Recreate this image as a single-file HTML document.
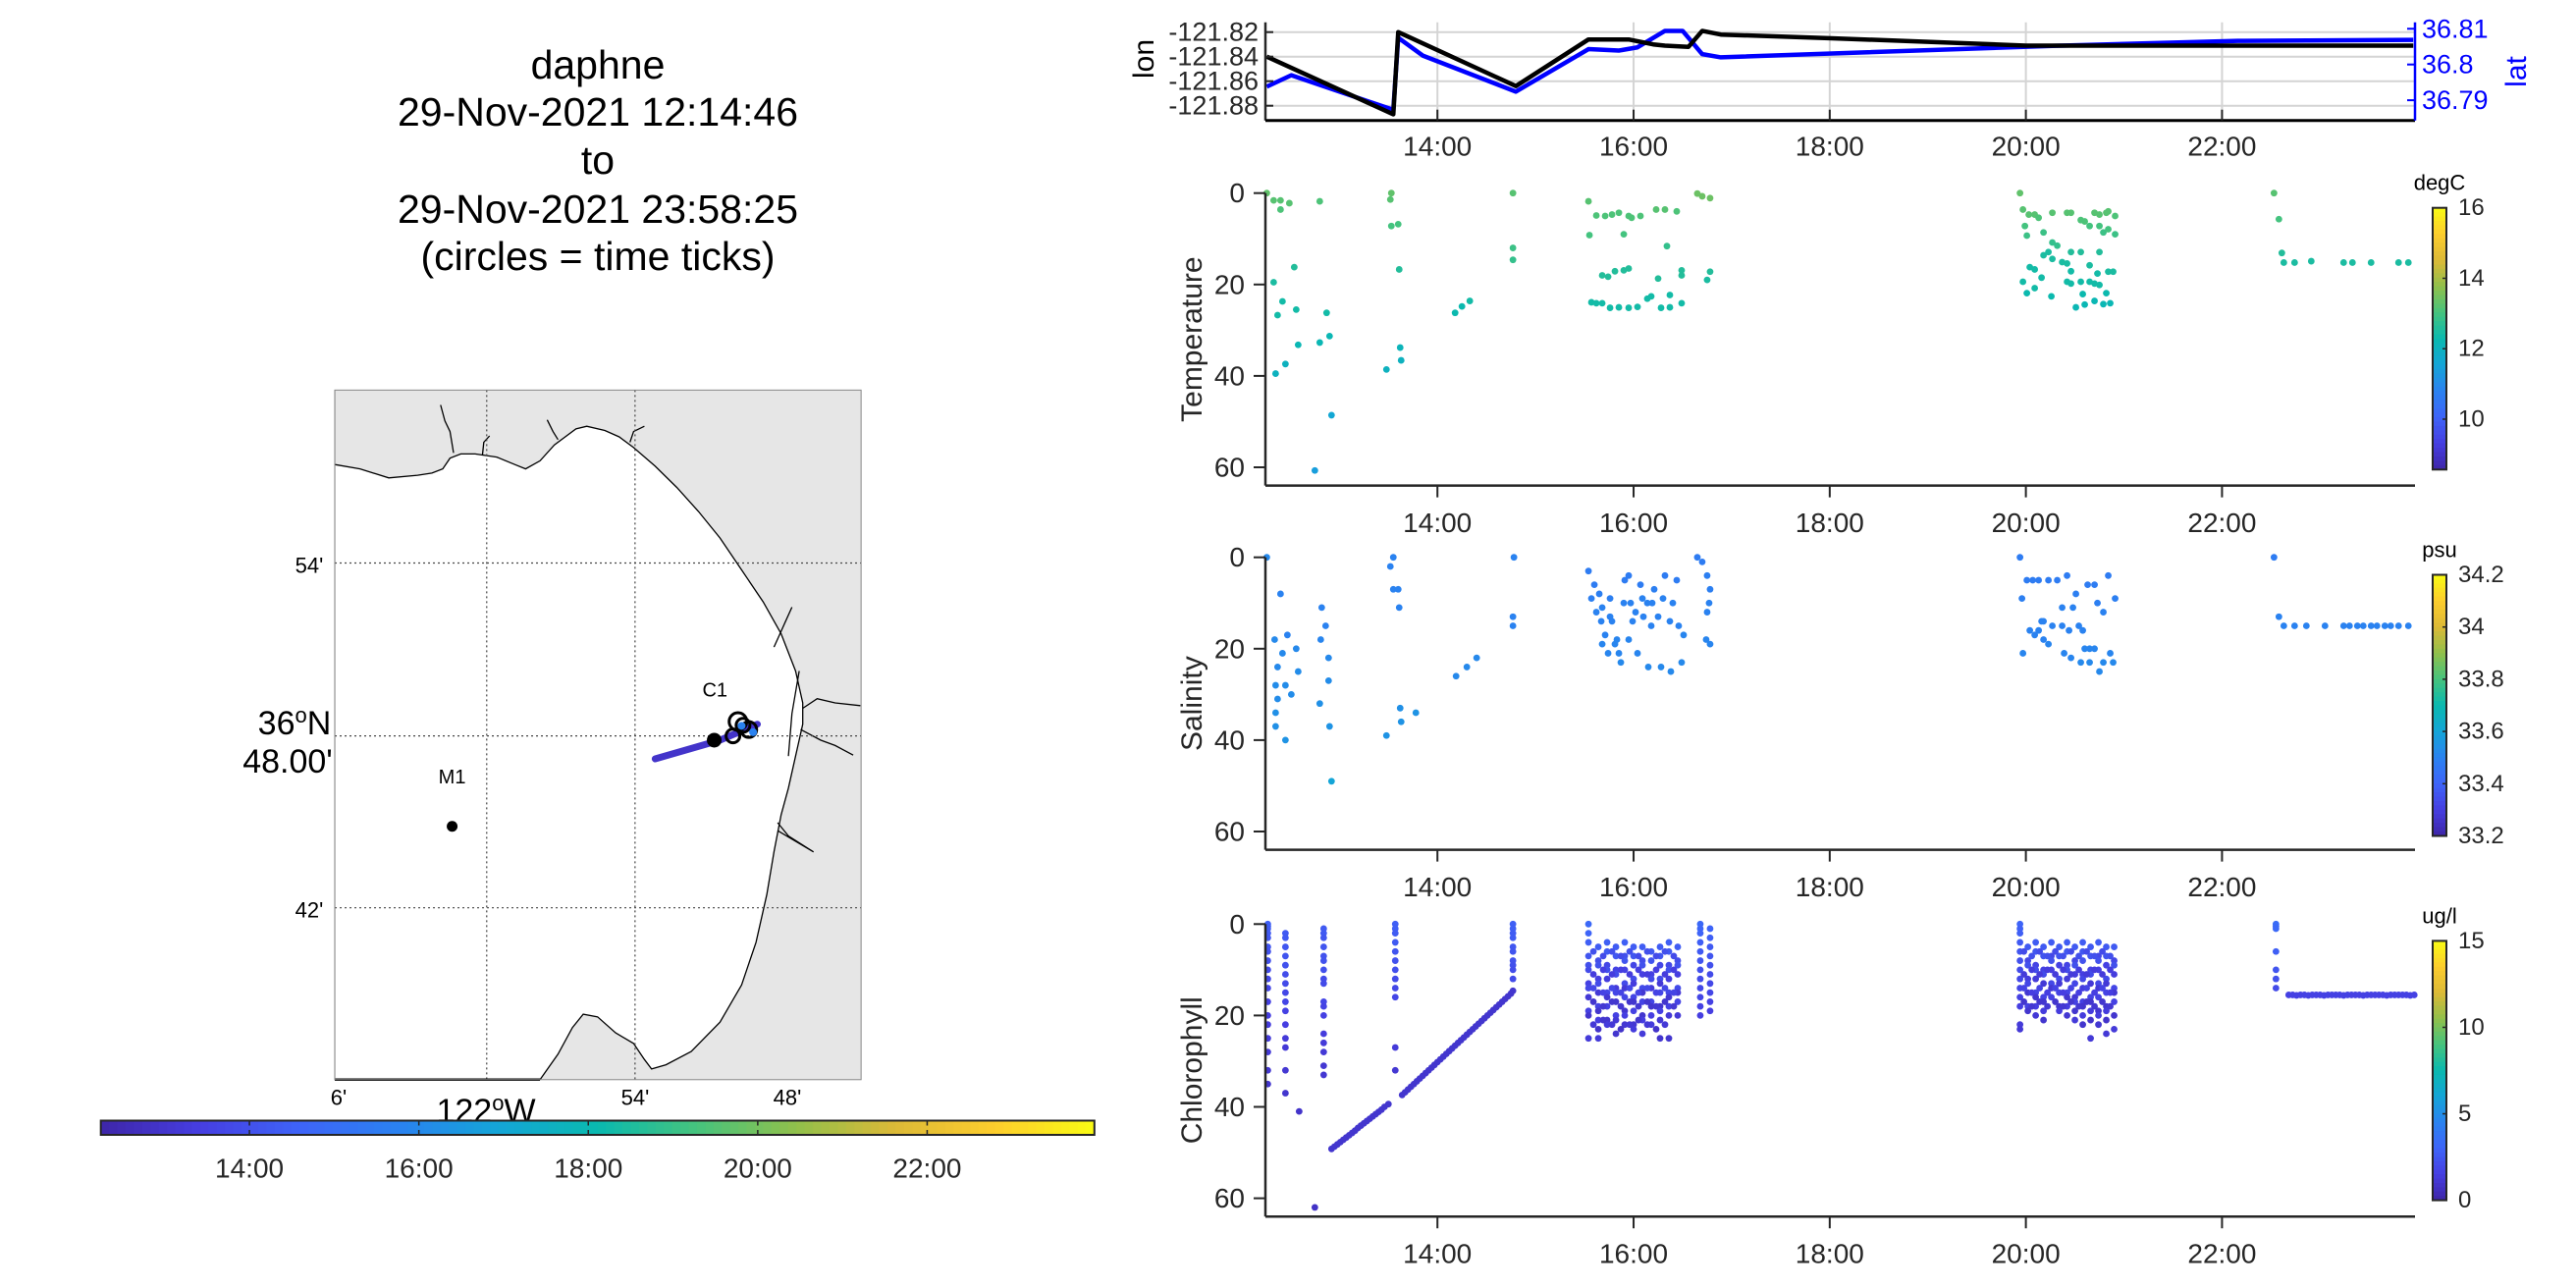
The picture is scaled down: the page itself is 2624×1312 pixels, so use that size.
<!DOCTYPE html>
<html><head><meta charset="utf-8">
<style>
html,body{margin:0;padding:0;background:#fff;}
svg{display:block;font-family:"Liberation Sans",Arial,sans-serif;}
</style></head>
<body>
<svg id="fig" width="2624" height="1312" viewBox="0 0 2624 1312" xmlns="http://www.w3.org/2000/svg">
<g font-size="41" text-anchor="middle" fill="#000">
<text x="609" y="80">daphne</text>
<text x="609" y="128">29-Nov-2021 12:14:46</text>
<text x="609" y="177">to</text>
<text x="609" y="227">29-Nov-2021 23:58:25</text>
<text x="609" y="275">(circles = time ticks)</text>
</g>
<g id="map"></g>
<g id="hcb"></g>
<g id="nav"></g>
<g id="temp"></g>
<g id="sal"></g>
<g id="chl"></g>
</svg>
<script>
// ---------- data ----------
const timeTicks = [14,16,18,20,22];
const timeTickLabels = ["14:00","16:00","18:00","20:00","22:00"];
const navT = [12.26,13.55,13.60,14.80,15.54,15.95,16.20,16.32,16.56,16.70,16.89,18.02,20.0,23.95];
const lonV = [-121.840,-121.887,-121.820,-121.864,-121.826,-121.826,-121.830,-121.831,-121.832,-121.819,-121.822,-121.825,-121.831,-121.831];
const latT = [12.26,12.51,13.55,13.60,13.85,14.80,15.54,15.85,16.04,16.32,16.50,16.70,16.89,20.27,22.16,23.95];
const latV = [36.7938,36.797,36.7873,36.8075,36.8025,36.7924,36.8043,36.8039,36.8048,36.8094,36.8094,36.8029,36.802,36.8052,36.8066,36.8069];
const lonTicks = [-121.82,-121.84,-121.86,-121.88];
const latTicks = [36.81,36.8,36.79];
const latTickLabels = ["36.81","36.8","36.79"];
const depthTicks = [0,20,40,60];

const tempT = [12.26,12.33,12.40,12.40,12.49,12.54,12.33,12.37,12.35,12.45,12.42,12.56,12.58,12.80,12.92,12.87,12.90,12.80,12.75,
13.53,13.52,13.53,13.60,13.61,13.62,13.63,13.48,14.77,14.77,14.77,14.18,14.25,14.33,
15.54,15.55,15.62,15.71,15.78,15.85,15.90,15.95,15.98,16.07,16.23,16.32,16.44,16.34,15.68,15.74,15.81,15.90,15.95,16.25,16.49,16.49,
15.57,15.62,15.68,15.76,15.85,15.95,16.04,16.14,16.18,16.28,16.37,16.37,16.49,16.65,16.70,16.78,16.75,16.78,
19.94,19.97,20.03,20.09,20.13,19.99,20.01,20.18,20.27,20.32,20.27,20.42,20.46,20.56,20.60,20.70,20.75,20.82,20.84,20.91,20.75,20.79,20.91,20.84,20.65,
20.04,20.09,20.18,20.23,20.27,20.37,20.42,20.46,20.56,20.65,20.75,20.84,20.89,19.97,20.01,20.09,20.16,20.26,20.42,20.46,20.56,20.65,20.70,20.75,
20.51,20.60,20.70,20.79,20.86,20.58,20.82,20.46,20.73,
22.53,22.58,22.61,22.63,22.74,22.91,23.24,23.33,23.52,23.80,23.90];
const tempD = [0,1.6,1.6,3.6,2.2,16.2,19.5,26.7,39.5,37.4,23.7,25.5,33.2,1.8,48.6,26.2,31.3,32.7,60.7,
0,1.4,7.2,6.8,16.7,33.8,36.6,38.6,0,12,14.6,26.2,24.8,23.6,
1.8,9.2,4.9,5,4.7,4.3,9,5,5.4,5,3.6,3.6,4,11.6,18,18.3,17.1,16.9,16.5,18.7,16.9,18,
23.9,24.1,24.1,25.1,25,25.1,24.9,23.1,22.6,25.1,25,22.3,24.1,0.1,0.7,1.1,19,17.2,
0,3.6,4.7,4.7,5.4,7.2,9.3,8.6,10.8,11.5,4.3,4.3,4.3,5.9,6.2,4.3,4.7,4.3,4,5,7.2,8.6,9,7.9,7.2,
16.2,16.7,13.6,12.9,14.4,15.1,15.4,12.9,12.9,15.8,12.9,17.2,17.2,19.4,21.9,20.8,18.5,22.6,19.4,19.8,19.4,19.4,19.8,20.1,
25,24.4,23.6,24.3,24.1,22.1,21.9,17.1,17.6,
0,5.7,13.1,15.2,15.2,14.9,15.2,15.2,15.2,15.2,15.2];
const tempV = [13.3,13.2,13.2,13.1,13.2,12.6,12.5,12.4,12.0,12.0,12.4,12.4,12.2,13.1,11.6,12.4,12.2,12.2,11.4,
13.3,13.2,13.0,13.0,12.6,12.1,12.0,12.0,13.2,12.9,12.8,12.3,12.3,12.4,
13.2,13.0,13.1,13.1,13.1,13.1,13.0,13.1,13.1,13.1,13.2,13.2,13.1,12.8,12.6,12.6,12.6,12.6,12.6,12.6,12.6,12.6,
12.4,12.4,12.4,12.4,12.4,12.4,12.4,12.4,12.4,12.4,12.4,12.4,12.4,13.4,13.4,13.4,12.5,12.6,
13.3,13.2,13.2,13.2,13.1,13.0,12.9,12.9,12.8,12.8,13.2,13.2,13.2,13.1,13.1,13.2,13.2,13.2,13.2,13.1,13.0,12.9,12.9,13.0,13.0,
12.4,12.4,12.5,12.5,12.5,12.5,12.5,12.6,12.6,12.5,12.6,12.5,12.5,12.4,12.3,12.4,12.4,12.3,12.4,12.4,12.4,12.4,12.4,12.4,
12.2,12.2,12.2,12.2,12.2,12.3,12.3,12.4,12.4,
13.2,13.0,12.6,12.5,12.5,12.5,12.5,12.5,12.5,12.5,12.5];

const salT = [12.26,12.40,12.34,12.37,12.35,12.37,12.35,12.35,12.45,12.42,12.47,12.45,12.51,12.56,12.58,12.82,12.86,12.81,12.89,12.89,12.80,12.90,12.92,
13.55,13.52,13.55,13.60,13.61,13.62,13.63,13.78,13.48,14.19,14.30,14.40,14.78,14.77,14.77,
15.54,15.57,15.60,15.62,15.67,15.68,15.71,15.74,15.76,15.78,15.81,15.83,15.85,15.87,15.91,15.95,15.97,15.99,16.02,16.04,16.07,16.10,16.14,16.15,16.19,16.21,16.25,16.28,16.30,16.32,16.37,16.38,16.44,16.46,16.49,16.51,
16.65,16.70,16.75,16.78,16.77,16.75,16.74,16.78,15.65,15.68,15.76,15.90,15.95,16.09,16.18,16.40,
19.94,19.96,20.01,20.04,20.09,20.13,20.16,20.18,20.23,20.07,20.13,20.23,20.32,20.42,20.51,20.48,20.37,20.27,20.37,20.44,20.54,20.58,20.63,20.70,20.73,20.65,20.70,20.46,20.56,20.65,20.75,20.79,20.86,20.89,20.84,20.91,19.97,20.18,20.79,20.60,20.39,
22.53,22.58,22.63,22.74,22.86,23.05,23.24,23.30,23.38,23.44,23.52,23.58,23.66,23.72,23.80,23.90];
const salD = [0,8,18,24,28,31,34,37,40,21,17,28,30,20,25,11,15,18,22,27,32,37,49,
0,2,7,7,11,33,36,34,39,26,24,22,0,13,15,
3,9,6,12,14,19,17,21,13,14,19,18,21,23,5,4,10,14,12,21,6,13,10,24,10,7,13,24,9,4,14,25,5,15,23,17,
0,1,4,7,10,12,18,19,8,11,9,10,18,9,15,10,
0,9,5,16,17,16,14,18,19,5,5,5,5,4,8,11,11,15,15,16,15,16,6,6,10,20,20,22,23,23,25,23,21,23,4,9,21,14,12,20,21,
0,13,15,15,15,15,15,15,15,15,15,15,15,15,15,15];
const salV = [33.52,33.5,33.52,33.52,33.53,33.53,33.54,33.54,33.55,33.52,33.5,33.53,33.53,33.52,33.53,33.5,33.5,33.51,33.52,33.53,33.54,33.55,33.6,
33.5,33.5,33.5,33.5,33.5,33.54,33.55,33.55,33.55,33.52,33.52,33.52,33.5,33.5,33.5,
33.48,33.49,33.48,33.5,33.5,33.51,33.5,33.51,33.5,33.5,33.51,33.51,33.51,33.52,33.48,33.48,33.5,33.5,33.5,33.51,33.48,33.5,33.5,33.52,33.5,33.49,33.5,33.52,33.5,33.48,33.5,33.52,33.48,33.5,33.52,33.51,
33.48,33.48,33.49,33.49,33.5,33.5,33.51,33.51,33.49,33.5,33.49,33.5,33.51,33.5,33.5,33.5,
33.48,33.49,33.48,33.5,33.5,33.5,33.5,33.5,33.51,33.48,33.48,33.48,33.48,33.48,33.49,33.5,33.5,33.5,33.5,33.5,33.5,33.5,33.48,33.48,33.49,33.51,33.51,33.51,33.52,33.52,33.52,33.52,33.51,33.52,33.48,33.49,33.51,33.5,33.5,33.51,33.51,
33.48,33.5,33.5,33.5,33.5,33.5,33.5,33.5,33.5,33.5,33.5,33.5,33.5,33.5,33.5,33.5];

const chlTimes = [12.27,12.45,12.59,12.75,12.84,13.57,14.77,
15.54,15.64,15.73,15.82,15.91,16.00,16.09,16.18,16.27,16.36,16.45,16.68,16.78,
15.59,15.69,15.78,15.87,15.96,16.05,16.14,16.23,16.32,16.41,
19.94,20.02,20.10,20.18,20.26,20.34,20.42,20.50,20.58,20.66,20.74,20.82,20.90,
19.98,20.06,20.14,20.22,20.30,20.38,20.46,20.54,20.62,20.70,20.78,20.86,
22.55];
const chlDepths = [[0,0.5,1,2,3,5,6,8,10,12,14,17,20,22,25,28,32,35],[2,3,5,7,9,11,13,15,17,19,22,25,27,32,37],[41],[62],
[1,2,3,5,7,8,10,12,13,17,18,20,24,26,28,31,33],[0,1,2,4,6,8,10,12,14,16,27,32],[0,1,2,3,5,6,8,9,10,12],
[0,2,4,7,9,10,13,14,16,19,20,25],[5,8,9,12,13,15,18,19,21,23,25],[4,6,9,10,12,15,16,18,21,22],[5,7,10,11,14,15,17,20,21,24],
[4,7,8,10,13,14,16,19,20,22],[5,7,9,12,13,16,17,19,22,23],[5,8,9,11,14,15,17,20,21,24],[6,8,11,12,14,17,18,20,22],
[5,7,9,12,13,15,18,19,21,25],[4,6,9,10,12,15,16,18,20,25],[5,8,9,11,14,15,17,20],[0,1,2,4,6,8,10,12,14,16,18,20],[1,3,5,7,9,11,13,15,17,19],
[6,11,14,17,22],[7,10,15,18,21],[6,11,14,17,22],[7,10,15,18,23],[6,11,14,17,22],[7,10,15,18,21],[6,11,14,17,22],[7,10,15,18,23],[6,11,14,17,22],[7,10,15,18],
[0,1,2,4,6,8,10,12,14,16,18,22,23],[5,8,9,12,13,15,18,19],[4,6,9,10,12,15,16,18,20],[5,7,10,11,13,16,17,19,21],[4,7,8,10,13,14,16],
[5,7,9,12,13,15,18,19],[4,6,9,10,12,15,16,18,20],[5,8,9,11,13,16,17,19,21],[4,6,8,11,12,14,17,18,20,22],[5,7,10,11,13,16,17,19,21,25],
[4,7,8,10,13,14,16,19,20,22],[5,7,9,12,13,15,18,19,21,24],[5,8,9,11,14,15,17,20,23],
[6,11,14,17],[7,10,15,18],[6,11,14,17],[7,10,15,18],[6,11,14,17],[7,10,15,18],[6,11,14,17],[7,10,15,18],[6,11,14,17],[7,10,15,18],[6,11,14,17],[7,10,15,18],
[0,0.5,1,6,10,12,14]];
const chlValues = [[2.8,2.8,2.7,2.6,2.5,2.4,2.3,2.2,2.0,1.9,1.8,1.6,1.5,1.4,1.3,1.2,1.1,1.0],[2.6,2.6,2.5,2.4,2.3,2.1,2.0,1.9,1.8,1.6,1.5,1.3,1.2,1.1,1.0],[0.9],[0.8],
[2.6,2.6,2.5,2.4,2.3,2.3,2.2,2.0,2.0,1.8,1.7,1.6,1.4,1.3,1.2,1.1,1.1],[2.8,2.8,2.7,2.6,2.4,2.3,2.2,2.0,1.9,1.8,1.3,1.1],[2.8,2.8,2.7,2.7,2.5,2.4,2.3,2.2,2.1,2.0],
[3.2,3.0,2.8,2.4,2.2,2.0,1.6,1.9,1.2,1.6,1.0,1.3],[2.7,2.1,2.3,1.5,2.0,1.2,1.7,1.0,1.5,0.9,1.3],[2.8,2.6,1.8,2.2,1.4,1.9,1.1,1.6,1.0,1.4],[2.7,2.5,1.7,2.1,1.3,1.8,1.0,1.6,1.2,1.0],
[2.8,2.2,2.4,1.6,2.0,1.2,1.8,1.0,1.5,1.1],[2.7,2.5,1.8,2.1,1.4,1.8,1.0,1.6,1.1,1.4],[2.7,2.1,2.3,1.5,2.0,1.1,1.7,1.0,1.5,1.3],[2.6,2.4,1.6,2.0,1.3,1.8,1.0,1.5,1.4],
[2.7,2.5,1.8,2.1,1.2,1.8,1.0,1.6,1.2,1.0],[2.8,2.6,1.9,2.2,1.4,1.9,1.1,1.6,1.2,1.0],[2.7,2.1,2.3,1.5,2.0,1.2,1.7,1.2],[3.2,3.1,3.0,2.8,2.6,2.4,2.2,2.0,1.9,1.8,1.6,1.5],[3.0,2.8,2.6,2.4,2.2,2.0,1.9,1.8,1.6,1.5],
[2.2,1.4,1.9,1.0,1.2],[2.0,1.5,1.7,1.1,1.0],[2.2,1.4,1.9,1.0,1.2],[2.0,1.5,1.7,1.1,0.9],[2.2,1.4,1.9,1.0,1.2],[2.0,1.5,1.7,1.1,1.0],[2.2,1.4,1.9,1.0,1.2],[2.0,1.5,1.7,1.1,0.9],[2.2,1.4,1.9,1.0,1.2],[2.0,1.5,1.7,1.1],
[3.0,2.9,2.8,2.6,2.4,2.2,2.0,1.9,1.8,1.6,1.5,1.3,1.2],[2.6,1.8,2.2,1.4,1.8,1.1,1.6,1.0],[2.7,2.5,1.7,2.1,1.3,1.8,1.0,1.5,1.2],[2.6,2.4,1.6,2.0,1.2,1.7,1.0,1.4,1.0],[2.7,1.9,2.3,1.5,1.9,1.1,1.6],
[2.6,2.4,1.6,2.0,1.2,1.7,1.0,1.4],[2.7,2.5,1.7,2.1,1.3,1.8,1.0,1.5,1.1],[2.6,1.8,2.2,1.4,1.8,1.1,1.6,1.0,1.3],[2.7,2.5,2.3,1.5,1.9,1.4,1.6,1.0,1.4,1.0],[2.6,2.4,1.6,2.0,1.2,1.7,1.0,1.4,0.9,1.2],
[2.7,1.9,2.3,1.5,1.9,1.2,1.6,1.0,1.4,1.1],[2.6,2.4,1.6,2.0,1.2,1.7,1.0,1.4,0.9,1.2],[2.6,1.8,2.2,1.4,1.8,1.1,1.6,1.0,1.3],
[2.0,1.3,1.7,1.0],[2.2,1.4,1.5,1.1],[2.0,1.3,1.7,1.0],[2.2,1.4,1.5,1.1],[2.0,1.3,1.7,1.0],[2.2,1.4,1.5,1.1],[2.0,1.3,1.7,1.0],[2.2,1.4,1.5,1.1],[2.0,1.3,1.7,1.0],[2.2,1.4,1.5,1.1],[2.0,1.3,1.7,1.0],[2.2,1.4,1.5,1.1],
[3.4,3.3,3.2,2.8,2.4,2.2,2.0]];
const profT = [12.92,12.95,12.98,13.01,13.04,13.07,13.10,13.13,13.16,13.19,13.22,13.25,13.28,13.31,13.34,13.37,13.40,13.43,13.46,13.50,
13.64,13.67,13.70,13.73,13.76,13.79,13.82,13.85,13.88,13.91,13.94,13.97,14.00,14.03,14.06,14.09,14.12,14.15,14.18,14.21,14.24,14.27,14.30,14.33,14.36,14.39,14.42,14.45,14.48,14.51,14.54,14.57,14.60,14.63,14.66,14.69,14.72,14.75,14.77];
const profD = [49.2,48.7,48.2,47.7,47.2,46.7,46.2,45.7,45.2,44.6,44.1,43.6,43.1,42.6,42.1,41.6,41.1,40.6,40.0,39.4,
37.4,36.8,36.2,35.6,35.0,34.4,33.8,33.2,32.6,32.0,31.4,30.8,30.2,29.6,29.0,28.4,27.8,27.2,26.6,26.0,25.4,24.8,24.2,23.6,23.0,22.4,21.8,21.2,20.6,20.0,19.4,18.8,18.2,17.6,17.0,16.4,15.8,15.2,14.6];
const profV = 1.0;
const tailT = [22.68,22.72,22.76,22.80,22.84,22.88,22.92,22.96,23.00,23.04,23.08,23.12,23.16,23.20,23.24,23.28,23.32,23.36,23.40,23.44,23.48,23.52,23.56,23.60,23.64,23.68,23.72,23.76,23.80,23.84,23.88,23.92,23.96];
const tailD = [15.5,15.5,15.6,15.5,15.5,15.6,15.5,15.5,15.5,15.6,15.5,15.5,15.5,15.5,15.6,15.5,15.5,15.5,15.5,15.6,15.5,15.5,15.5,15.5,15.5,15.6,15.5,15.5,15.5,15.5,15.5,15.6,15.5];
const tailV = 1.6;

// ---------- helpers ----------
const NS = "http://www.w3.org/2000/svg";
function el(tag, attrs, parent){const e=document.createElementNS(NS,tag);for(const k in attrs)e.setAttribute(k,attrs[k]);if(parent)parent.appendChild(e);return e;}
function txt(s, attrs, parent){const e=el("text",attrs,parent);e.textContent=s;return e;}
const stops=[[0,62,38,168],[0.1,70,62,225],[0.2,62,100,248],[0.3,42,130,240],[0.4,20,165,215],[0.5,10,185,175],[0.6,70,195,125],[0.7,145,192,75],[0.8,220,185,55],[0.9,253,205,45],[1,249,251,20]];
function parula(f){f=Math.max(0,Math.min(1,f));for(let i=1;i<stops.length;i++){if(f<=stops[i][0]){const a=stops[i-1],b=stops[i],u=(f-a[0])/(b[0]-a[0]);return `rgb(${Math.round(a[1]+u*(b[1]-a[1]))},${Math.round(a[2]+u*(b[2]-a[2]))},${Math.round(a[3]+u*(b[3]-a[3]))})`;}}return "rgb(249,251,20)";}
const T0=12.246, T1=23.974;
const X=t=>1289+(t-T0)*99.9;
const AX0=1289, AX1=2460;

// ---------- nav panel ----------
(function(){
 const g=document.getElementById("nav");
 const top=22.7,bot=122.7;
 const lonY=v=>32.7+(-121.82-v)*1250;
 const latY=v=>29.3+(36.81-v)*3640;
 lonTicks.forEach(v=>{const l=el("line",{x1:AX0,x2:AX1,y1:lonY(v),y2:lonY(v),stroke:"#d4d4d4","stroke-width":2},g);});
 timeTicks.forEach(t=>{const l=el("line",{x1:X(t),x2:X(t),y1:top,y2:bot,stroke:"#d4d4d4","stroke-width":2},g);});
 const lonPts=navT.map((t,i)=>X(t)+","+lonY(lonV[i])).join(" ");
 const latPts=latT.map((t,i)=>X(t)+","+latY(latV[i])).join(" ");
 const pl2=el("polyline",{points:latPts,fill:"none",stroke:"#0000ff","stroke-width":4.5,"stroke-linejoin":"round"},g);
 
 const pl=el("polyline",{points:lonPts,fill:"none",stroke:"#000","stroke-width":4.5,"stroke-linejoin":"round"},g);
 
 el("line",{x1:AX0,x2:AX0,y1:top,y2:bot,stroke:"#262626","stroke-width":2.5},g);
 el("line",{x1:AX0,x2:AX1,y1:bot,y2:bot,stroke:"#000","stroke-width":3},g);
 el("line",{x1:AX1,x2:AX1,y1:top,y2:bot,stroke:"#0000ff","stroke-width":2.5},g);
 lonTicks.forEach(v=>{el("line",{x1:AX0,x2:AX0+8,y1:lonY(v),y2:lonY(v),stroke:"#262626","stroke-width":2},g);
  const t=txt(v.toFixed(2),{x:1282,y:lonY(v),"font-size":27,"text-anchor":"end","dominant-baseline":"central",fill:"#262626"},g);
  });
 latTicks.forEach((v,i)=>{el("line",{x1:AX1-8,x2:AX1,y1:latY(v),y2:latY(v),stroke:"#0000ff","stroke-width":2},g);
  const t=txt(latTickLabels[i],{x:2467,y:latY(v),"font-size":27,"dominant-baseline":"central",fill:"#0000ff"},g);
  });
 timeTicks.forEach((t,i)=>{el("line",{x1:X(t),x2:X(t),y1:bot-11,y2:bot,stroke:"#262626","stroke-width":2},g);
  const e=txt(timeTickLabels[i],{x:X(t),y:149,"font-size":28,"text-anchor":"middle","dominant-baseline":"central",fill:"#262626"},g);
  });
 const a=txt("lon",{x:0,y:0,"font-size":30,"text-anchor":"middle",transform:"translate(1175,60) rotate(-90)",fill:"#000"},g);
 
 const b=txt("lat",{x:0,y:0,"font-size":30,"text-anchor":"middle",transform:"translate(2573,73) rotate(-90)",fill:"#0000ff"},g);
 
})();

// ---------- scatter panels ----------
function panel(id, y0, title, unit, cmin, cmax, cbTicks, cbLabels, cbTop, cbBot){
 const g=document.getElementById(id);
 const Y=d=>y0+d*4.655, bot=y0+64*4.655;
 const dots=el("g",{},g);
 
 el("line",{x1:AX0,x2:AX0,y1:y0,y2:bot,stroke:"#262626","stroke-width":2.5},g);
 el("line",{x1:AX0,x2:AX1,y1:bot,y2:bot,stroke:"#262626","stroke-width":2.5},g);
 depthTicks.forEach(d=>{el("line",{x1:AX0-12,x2:AX0,y1:Y(d),y2:Y(d),stroke:"#262626","stroke-width":2},g);
  const t=txt(String(d),{x:1268,y:Y(d),"font-size":28,"text-anchor":"end","dominant-baseline":"central",fill:"#262626"},g);
  });
 timeTicks.forEach((t,i)=>{el("line",{x1:X(t),x2:X(t),y1:bot,y2:bot+12,stroke:"#262626","stroke-width":2},g);
  const e=txt(timeTickLabels[i],{x:X(t),y:bot+38,"font-size":28,"text-anchor":"middle","dominant-baseline":"central",fill:"#262626"},g);
  });
 const ti=txt(title,{x:0,y:0,"font-size":30,"text-anchor":"middle",transform:`translate(1224,${(y0+bot)/2}) rotate(-90)`,fill:"#262626"},g);
 
 const cb=el("g",{},g);
 
 const n=60,h=(cbBot-cbTop)/n;
 for(let i=0;i<n;i++){el("rect",{x:2478,y:cbTop+i*h,width:14,height:h+0.6,fill:parula(1-(i+0.5)/n)},cb);}
 el("rect",{x:2478,y:cbTop,width:14,height:cbBot-cbTop,fill:"none",stroke:"#262626","stroke-width":2},cb);
 const CY=v=>cbBot-(v-cmin)/(cmax-cmin)*(cbBot-cbTop);
 cbTicks.forEach((v,i)=>{el("line",{x1:2488,x2:2492,y1:CY(v),y2:CY(v),stroke:"#262626","stroke-width":1.5},cb);
  const e=txt(cbLabels[i],{x:2504,y:CY(v),"font-size":24,"dominant-baseline":"central",fill:"#262626"},cb);
  });
 const u=txt(unit,{x:2485,y:cbTop-18,"font-size":22,"text-anchor":"middle",fill:"#000"},cb);
 
 return {dots,Y,col:v=>parula((v-cmin)/(cmax-cmin))};
}
function dot(p,t,d,v){const c=el("circle",{cx:X(t),cy:p.Y(d),r:3.4,fill:p.col(v)},p.dots);
 }

const pT=panel("temp",196.7,"Temperature","degC",8.57,16,[10,12,14,16],["10","12","14","16"],211.7,478.3);
tempT.forEach((t,i)=>dot(pT,t,tempD[i],tempV[i]));
const pS=panel("sal",567.7,"Salinity","psu",33.2,34.2,[33.2,33.4,33.6,33.8,34,34.2],["33.2","33.4","33.6","33.8","34","34.2"],585.5,851.5);
salT.forEach((t,i)=>dot(pS,t,salD[i],salV[i]));
const pC=panel("chl",941.3,"Chlorophyll","ug/l",0,15,[0,5,10,15],["0","5","10","15"],958.4,1222.6);
chlTimes.forEach((t,i)=>chlDepths[i].forEach((d,j)=>dot(pC,t,d,chlValues[i][j])));
profT.forEach((t,i)=>dot(pC,t,profD[i],profV));
tailT.forEach((t,i)=>dot(pC,t,tailD[i],tailV));

// ---------- map ----------
(function(){
 const g=document.getElementById("map");
 const mx=z=>z*0.7334, my=z=>380+z*0.542;
 const P=a=>{let s=[];for(let i=0;i<a.length;i+=2)s.push(mx(a[i]).toFixed(1)+","+my(a[i+1]).toFixed(1));return s.join(" ");};
 const bx0=mx(465),bx1=mx(1196),by0=my(32),by1=my(1328);
 const land=el("rect",{x:bx0,y:by0,width:bx1-bx0,height:by1-by0,fill:"#e6e6e6"},g);
 
 const coast=[465,172,500,180,540,197,580,192,600,188,615,180,625,160,640,152,660,152,690,158,715,172,730,180,750,165,770,135,800,105,815,100,840,108,860,120,880,140,910,175,940,215,970,260,1000,310,1030,370,1060,430,1085,490,1105,560,1115,620,1115,660,1105,720,1095,780,1085,830,1075,900,1065,980,1050,1070,1030,1150,1000,1220,960,1275,925,1300,905,1308,895,1290,880,1260,855,1240,830,1210,810,1205,795,1230,775,1280,750,1328];
 const wat=el("polygon",{points:P(coast.concat([465,1328])),fill:"#fff"},g);
 
 const cl=el("polyline",{points:P(coast),fill:"none",stroke:"#000","stroke-width":1.3},g);
 
 [[612,60,618,90,625,110,630,150],[680,118,672,130,670,155],[760,88,768,110,775,125],[895,100,880,110,875,130],[1100,440,1090,470,1080,500,1075,515],[1115,630,1135,612,1160,620,1195,625],[1112,670,1140,690,1160,700,1185,718],[1080,845,1095,870,1130,900,1105,880,1080,860],[1110,560,1100,640,1095,720]].forEach(r=>{
  const l=el("polyline",{points:P(r),fill:"none",stroke:"#000","stroke-width":1.3},g);});
 [676,882].forEach(z=>el("line",{x1:mx(z),x2:mx(z),y1:by0,y2:by1,stroke:"#444","stroke-width":1.2,"stroke-dasharray":"2,3"},g));
 [357,682,1005].forEach(z=>el("line",{x1:bx0,x2:bx1,y1:my(z),y2:my(z),stroke:"#444","stroke-width":1.2,"stroke-dasharray":"2,3"},g));
 el("line",{x1:bx0,x2:mx(750),y1:by1,y2:by1,stroke:"#000","stroke-width":2.5},g);
 el("line",{x1:bx0,x2:bx0,y1:by0,y2:by1,stroke:"#000","stroke-width":1},g);
 el("rect",{x:bx0,y:by0,width:bx1-bx0,height:by1-by0,fill:"none",stroke:"#888","stroke-width":1},g);
 const lab=(s,x,y,fs,nm)=>{const t=txt(s,{x:x,y:y,"font-size":fs,"text-anchor":"middle","dominant-baseline":"central",fill:"#000"},g);return t;};
 lab("54'",315,576,22,"lat-label"); lab("42'",315,927,22,"lat-label");
 const t36=txt("",{x:300,y:748,"font-size":34,"text-anchor":"middle",fill:"#000"},g);
 
 t36.innerHTML='36<tspan dy="-12" font-size="22">o</tspan><tspan dy="12">N</tspan>';
 lab("48.00'",293,776,34,"lat-label-main");
 lab("6'",345,1118,22,"lon-label"); lab("54'",647,1118,22,"lon-label"); lab("48'",802,1118,22,"lon-label");
 const t122=txt("",{x:495,y:1143,"font-size":34,"text-anchor":"middle",fill:"#000"},g);
 
 t122.innerHTML='122<tspan dy="-12" font-size="22">o</tspan><tspan dy="12">W</tspan>';
 lab("M1",mx(628),my(760),20,"mooring-m1-label"); lab("C1",mx(993),my(597),20,"mooring-c1-label");
 const m1=el("circle",{cx:mx(628),cy:my(852),r:5.5,fill:"#000"},g); 
 const tr=el("polyline",{points:P([910,725,1000,690,1052,660]),fill:"none",stroke:parula(0.06),"stroke-width":7,"stroke-linecap":"round"},g);
 
 [[992,690,6],[1025,655,9],[1040,670,8],[1018,682,7],[1032,662,7]].forEach(c=>{const e=el("circle",{cx:mx(c[0]),cy:my(c[1]),r:c[2],fill:c[0]==992?"#000":"none",stroke:"#000","stroke-width":3},g);});
 [[1030,663],[1046,675]].forEach(c=>{const e=el("circle",{cx:mx(c[0]),cy:my(c[1]),r:4,fill:parula(0.3)},g);});
})();

// ---------- time colorbar ----------
(function(){
 const g=document.getElementById("hcb");
 const x0=102.7,x1=1114.8,y0=1141.5,y1=1156;
 const HX=t=>x0+(t-T0)/(T1-T0)*(x1-x0);
 const n=120,w=(x1-x0)/n;
 for(let i=0;i<n;i++)el("rect",{x:x0+i*w,y:y0,width:w+0.6,height:y1-y0,fill:parula((i+0.5)/n)},g);
 el("rect",{x:x0,y:y0,width:x1-x0,height:y1-y0,fill:"none",stroke:"#262626","stroke-width":2},g);
 timeTicks.forEach((t,i)=>{el("line",{x1:HX(t),x2:HX(t),y1:y0,y2:y0+5,stroke:"#262626","stroke-width":1.5},g);el("line",{x1:HX(t),x2:HX(t),y1:y1-5,y2:y1,stroke:"#262626","stroke-width":1.5},g);
  const e=txt(timeTickLabels[i],{x:HX(t),y:1190,"font-size":28,"text-anchor":"middle","dominant-baseline":"central",fill:"#262626"},g);
  });
})();
</script>
</body></html>
